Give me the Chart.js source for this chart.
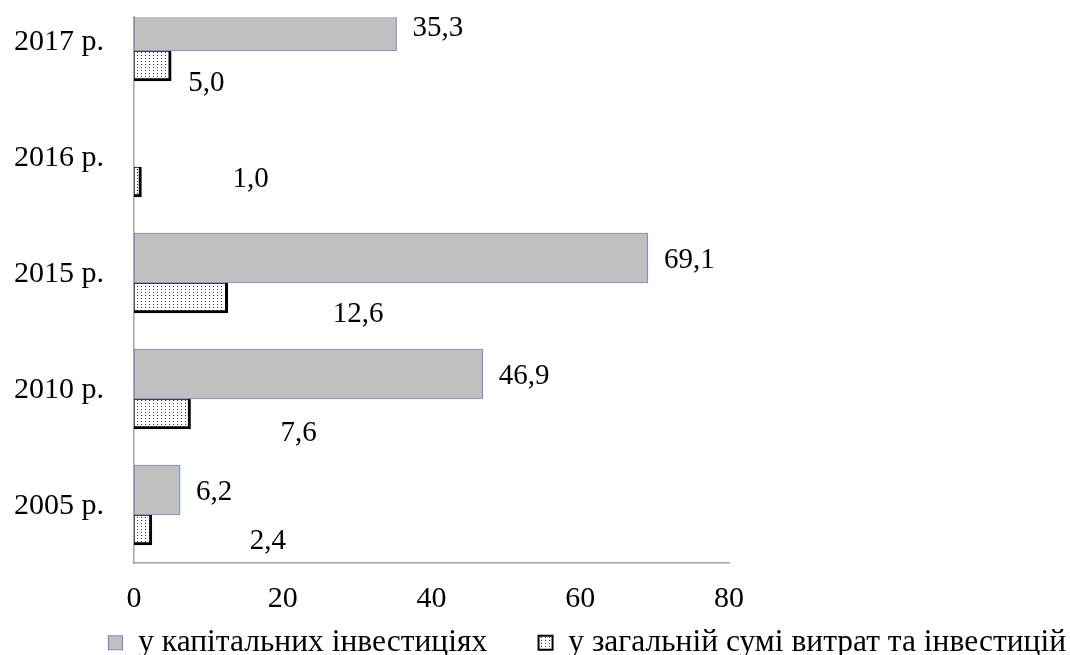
<!DOCTYPE html>
<html>
<head>
<meta charset="utf-8">
<script src="https://cdn.jsdelivr.net/npm/chart.js@4/dist/chart.umd.min.js"></script>
<style>
  html, body { margin: 0; padding: 0; background: #fff; overflow: hidden; }
  #wrap { position: relative; width: 1078px; height: 655px; }
</style>
</head>
<body>
<div id="wrap"><canvas id="chart" width="1078" height="655"></canvas></div>
<script>
// Дані (знизу вгору)
const years = ['2005 р.', '2010 р.', '2015 р.', '2016 р.', '2017 р.'];
const capitalInvest = [6.2, 46.9, 69.1, null, 35.3];   // у капітальних інвестиціях
const totalCosts = [2.4, 7.6, 12.6, 1.0, 5.0];         // у загальній сумі витрат та інвестицій
const xTicks = [0, 20, 40, 60, 80];
const seriesNames = ['у капітальних інвестиціях', 'у загальній сумі витрат та інвестицій'];

// зсуви підписів другого ряду (як розставлено вручну в оригіналі)
const dottedLabelDx = [98, 90, 105, 91, 17];
const dottedLabelDy = [11, 19, 16, -3, 17];

const FONT = '"Liberation Serif", "Times New Roman", serif';

// крапчаста заливка
const pc = document.createElement('canvas');
pc.width = 4; pc.height = 3;
const pctx = pc.getContext('2d');
pctx.fillStyle = '#ffffff';
pctx.fillRect(0, 0, 4, 3);
pctx.fillStyle = '#333333';
pctx.fillRect(1, 1, 1, 1);
const dots = pctx.createPattern(pc, 'repeat');

function toPoints(arr) {
    return arr.map((v, i) => ({ x: v, y: i })).filter(p => p.x !== null);
}

const valueLabels = {
    id: 'valueLabels',
    afterDatasetsDraw(chart) {
        const ctx = chart.ctx;
        ctx.save();
        ctx.font = '29px ' + FONT;
        ctx.fillStyle = '#000';
        ctx.textAlign = 'left';
        ctx.textBaseline = 'middle';
        chart.data.datasets.forEach((ds, di) => {
            const meta = chart.getDatasetMeta(di);
            meta.data.forEach((bar, j) => {
                const pt = ds.data[j];
                const dx = di === 0 ? 16 : dottedLabelDx[pt.y];
                const dy = di === 0 ? 2 : dottedLabelDy[pt.y];
                ctx.fillText(pt.x.toFixed(1).replace('.', ','), bar.x + dx, bar.y + dy);
            });
        });
        ctx.restore();
    }
};

new Chart(document.getElementById('chart').getContext('2d'), {
    type: 'bar',
    data: {
        datasets: [
            {
                label: seriesNames[0],
                data: toPoints(capitalInvest),
                backgroundColor: '#c0c0c0',
                borderColor: '#6a90c8',
                borderWidth: 1.2,
                borderSkipped: false,
                barThickness: 50,
                clip: 0
            },
            {
                label: seriesNames[1],
                data: toPoints(totalCosts),
                backgroundColor: dots,
                borderColor: '#000000',
                borderWidth: { top: 1, right: 3, bottom: 3, left: 1 },
                borderSkipped: false,
                barThickness: 30,
                clip: 0
            }
        ]
    },
    options: {
        indexAxis: 'y',
        responsive: false,
        animation: false,
        layout: { padding: { top: 17, left: 0, right: 0, bottom: 0 } },
        plugins: {
            tooltip: { enabled: false },
            legend: {
                position: 'bottom',
                align: 'end',
                maxHeight: 40,
                labels: {
                    font: { family: FONT, size: 31.5 },
                    color: '#000',
                    boxWidth: 14,
                    boxHeight: 14,
                    padding: 12,
                    generateLabels(chart) {
                        const items = Chart.defaults.plugins.legend.labels.generateLabels(chart);
                        // розрив між елементами легенди
                        items[0].text += '     ';
                        return items;
                    }
                }
            }
        },
        scales: {
            x: {
                type: 'linear',
                min: 0,
                max: 80,
                grid: { display: false },
                border: { display: true, color: '#a6a6a6', width: 1.5 },
                ticks: {
                    stepSize: 20,
                    padding: 10,
                    color: '#000',
                    font: { family: FONT, size: 30 },
                    callback: v => xTicks.includes(v) ? String(v) : ''
                },
                afterFit: s => { s.height = 52; s.paddingLeft = 0; s.paddingRight = 0; }
            },
            y: {
                type: 'linear',
                offset: false,
                min: -48 / 116,
                max: 4 + 34 / 116,
                grid: { display: false },
                border: { display: true, color: '#a6a6a6', width: 1.5 },
                ticks: {
                    padding: 22,
                    color: '#000',
                    font: { family: FONT, size: 30 },
                    callback: v => years[Math.round(v)]
                },
                afterBuildTicks: s => { s.ticks = years.map((_, i) => ({ value: i + 0.075 })); },
                afterFit: s => { s.width = 134; s.paddingTop = 0; s.paddingBottom = 0; }
            },
            y2: {
                type: 'linear',
                position: 'right',
                grid: { display: false },
                border: { display: false },
                ticks: { display: false },
                afterFit: s => { s.width = 349; s.paddingTop = 0; s.paddingBottom = 0; }
            }
        }
    },
    plugins: [valueLabels]
});
</script>
</body>
</html>
